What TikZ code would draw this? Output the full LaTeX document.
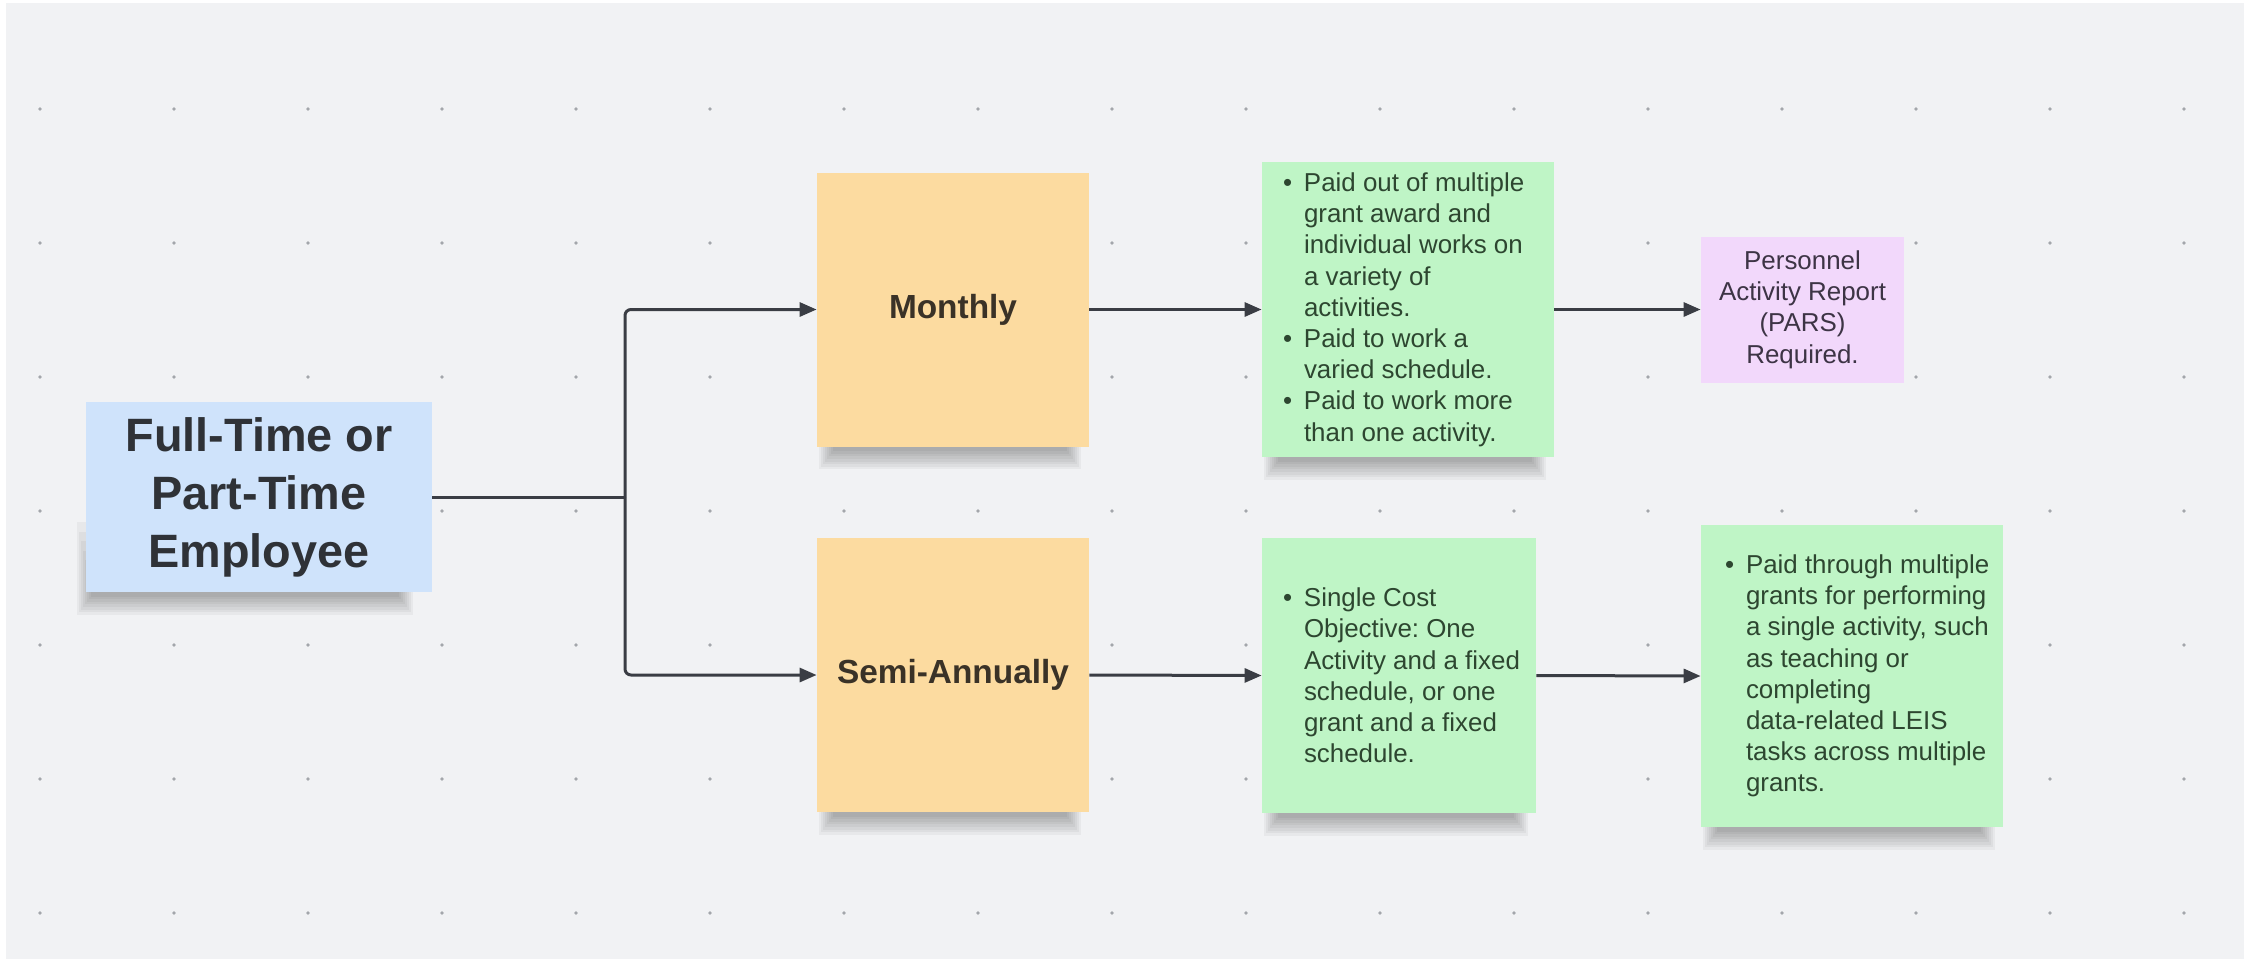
\documentclass[tikz,border=0pt]{standalone}
\usepackage{fontspec}
\setmainfont{Liberation Sans}
\frenchspacing
\usetikzlibrary{arrows.meta}
\pgfdeclarelayer{backlayer}
\pgfdeclarelayer{shadlayer}
\pgfsetlayers{backlayer,shadlayer,main}
\definecolor{bgc}{HTML}{F1F2F4}
\definecolor{dotc}{HTML}{A3A6AB}
\definecolor{lnc}{HTML}{3A3D44}
\definecolor{bluef}{HTML}{CFE3FB}
\definecolor{orf}{HTML}{FCDBA0}
\definecolor{grf}{HTML}{BFF5C6}
\definecolor{puf}{HTML}{F2D8FB}
\definecolor{empt}{HTML}{2F3237}
\definecolor{ort}{HTML}{3A3227}
\definecolor{grt}{HTML}{2D4630}
\definecolor{put}{HTML}{3D3445}
\newcommand\mybu{\makebox[10.5pt][l]{\textbullet}}
\newcommand\myind{\hspace*{10.5pt}}
% bottom shadow of a sticky note: #1 node name, #2 horizontal offset, #3 upward reach
\newcommand\noteshadow[3]{%
  \begin{pgfonlayer}{shadlayer}
  \foreach \k in {1,...,8}{
    \fill[black, opacity=0.04]
      ([xshift={(3+2*\k)*0.5pt+#2}, yshift={#3-\k*0.12*#3}]#1.south west) rectangle
      ([xshift={-(3+2*\k)*0.5pt+#2}, yshift={-(25-2.6*\k)*0.5pt}]#1.south east);
  }
  \end{pgfonlayer}}
\tikzset{
  note/.style={rectangle, inner sep=0pt},
  empnote/.style={note, fill=bluef, text=empt, align=center,
    font=\fontsize{23.4pt}{29pt}\selectfont\bfseries},
  ornote/.style={note, fill=orf, text=ort, font=\fontsize{16.7pt}{20pt}\selectfont\bfseries,
    minimum width=136pt, minimum height=137pt},
  grnote/.style={note, fill=grf},
  punote/.style={note, fill=puf, text=put, align=center,
    font=\fontsize{12.95pt}{15.7pt}\selectfont},
  gtext/.style={anchor=west, inner sep=0pt, align=left, text=grt,
    font=\fontsize{12.95pt}{15.6pt}\selectfont},
  link/.style={draw=lnc, line width=1.5pt},
  conn/.style={link, -{Triangle[length=8.5pt,width=7pt]}},
}
\begin{document}
\begin{tikzpicture}[x=0.5pt, y=-0.5pt]
\useasboundingbox (0,0) rectangle (2259,959);
\begin{pgfonlayer}{backlayer}
\fill[white] (0,0) rectangle (2259,959);
\fill[bgc] (6,3) rectangle (2244,959);
\foreach \i in {0,...,16}{
  \foreach \j in {0,...,6}{
    \fill[dotc] ({40+134*\i},{109+134*\j}) circle (0.9pt);
  }
}
\end{pgfonlayer}
% nodes
\node[empnote, minimum width=173pt, minimum height=95pt] (emp) at (259,497)
  {Full-Time or\\Part-Time\\Employee};
\node[ornote] (mon) at (953,309.5) {Monthly};
\node[ornote] (semi) at (953,675) {Semi-Annually};
\node[grnote, minimum width=146pt, minimum height=147.5pt] (g1) at (1408,309.5) {};
\node[grnote, minimum width=137pt, minimum height=137.5pt] (g2) at (1399,675.5) {};
\node[grnote, minimum width=151pt, minimum height=151pt] (g3) at (1852,676) {};
\node[punote, minimum width=101.5pt, minimum height=73pt] (pars) at (1802.5,309.5)
  {Personnel\\Activity Report\\(PARS)\\Required.};
\node[gtext] (g1t) at ([xshift=10.5pt]g1.west)
  {\mybu Paid out of multiple\\\myind grant award and\\\myind individual works on\\\myind a variety of\\\myind activities.\\
   \mybu Paid to work a\\\myind varied schedule.\\
   \mybu Paid to work more\\\myind than one activity.};
\node[gtext] (g2t) at ([xshift=10.5pt]g2.west)
  {\mybu Single Cost\\\myind Objective: One\\\myind Activity and a fixed\\\myind schedule, or one\\\myind grant and a fixed\\\myind schedule.};
\node[gtext] (g3t) at ([xshift=12pt]g3.west)
  {\mybu Paid through multiple\\\myind grants for performing\\\myind a single activity, such\\\myind as teaching or\\\myind completing\\\myind data-related LEIS\\\myind tasks across multiple\\\myind grants.};
% shadows
\noteshadow{emp}{-7pt}{40pt}
\noteshadow{mon}{-1.5pt}{2pt}
\noteshadow{semi}{-1.5pt}{2pt}
\noteshadow{g1}{-1.5pt}{2pt}
\noteshadow{g2}{-1.5pt}{2pt}
\noteshadow{g3}{-1.5pt}{2pt}
% connectors
\coordinate (j) at (625,497);
\draw[link] (emp.east) -- (j);
\draw[conn, rounded corners=3pt] (j) |- (mon.west);
\draw[conn, rounded corners=3pt] (j) |- (semi.west);
\draw[conn] (mon.east) -- (g1.west);
\draw[conn] (g1.east) -- (pars.west);
\draw[conn] (semi.east) -- (g2.west);
\draw[conn] (g2.east) -- (g3.west);
\end{tikzpicture}
\end{document}
